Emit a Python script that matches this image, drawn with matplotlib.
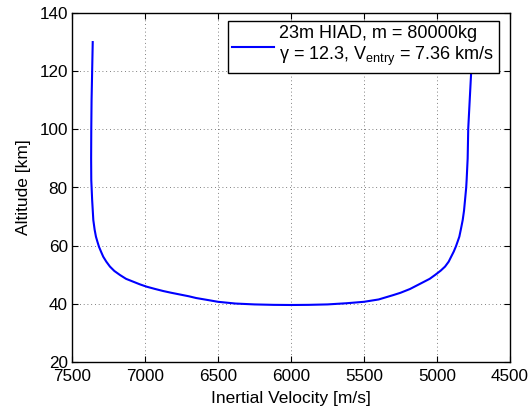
import matplotlib
matplotlib.use("Agg")
import matplotlib.pyplot as plt

plt.rcParams['font.family'] = ['Liberation Sans', 'DejaVu Sans']
plt.rcParams['mathtext.fontset'] = 'custom'
plt.rcParams['mathtext.rm'] = 'Liberation Sans'

# Trajectory: inertial velocity [m/s] vs altitude [km]
velocity = [7358, 7362, 7366, 7368, 7369, 7368, 7362, 7354, 7345, 7336, 7325,
            7315, 7300, 7286, 7265, 7240, 7210, 7171, 7130, 7080, 7035, 6989,
            6930, 6875, 6820, 6760, 6700, 6650, 6580, 6500, 6380, 6250, 6120,
            6000, 5880, 5750, 5620, 5500, 5400, 5300, 5250, 5185, 5100, 5050,
            5014, 4975, 4945, 4920, 4900, 4885, 4870, 4858, 4847, 4835, 4824,
            4815, 4808, 4800, 4797, 4790, 4786, 4776, 4767, 4760]
altitude = [130.0, 120.0, 110.0, 100.0, 90.0, 82.6, 75.7, 68.8, 65.5, 63.1, 61.2,
            59.6, 57.8, 56.2, 54.5, 52.8, 51.3, 49.9, 48.6, 47.6, 46.7, 45.9,
            45.1, 44.4, 43.8, 43.2, 42.6, 42.0, 41.4, 40.7, 40.1, 39.8, 39.65,
            39.6, 39.65, 39.8, 40.2, 40.7, 41.5, 43.0, 43.8, 45.1, 47.3, 48.6,
            49.9, 51.4, 52.8, 54.5, 56.5, 58.0, 59.8, 61.5, 63.1, 66.0, 68.8,
            72.0, 75.7, 80.0, 82.6, 90.0, 100.3, 110.0, 118.7, 130.0]

legend_label = "23m HIAD, m = 80000kg\nγ = 12.3, V$_{\\mathregular{entry}}$ = 7.36 km/s"
x_ticks = [7500, 7000, 6500, 6000, 5500, 5000, 4500]
y_ticks = [20, 40, 60, 80, 100, 120, 140]

fig = plt.figure(figsize=(5.32, 4.08), dpi=100)
ax = fig.add_axes([72/532, 1-362/408, (510-72)/532, (362-13)/408])

ax.plot(velocity, altitude, color='#0000ff', lw=1.5, label=legend_label)

ax.set_xlim(7500, 4500)
ax.set_ylim(20, 140)
ax.set_xticks(x_ticks)
ax.set_yticks(y_ticks)
ax.grid(True, color='#555555', linestyle=(0, (1, 3.5)), lw=0.6)
ax.tick_params(direction='in', top=True, right=True, length=4, width=0.8,
               labelsize=12.3)
ax.tick_params(axis='x', pad=5)
ax.tick_params(axis='y', pad=3)
for s in ax.spines.values():
    s.set_linewidth(1.0)
    s.set_color('black')

ax.set_xlabel('Inertial Velocity [m/s]', fontsize=12.5, labelpad=5)
ax.set_ylabel('Altitude [km]', fontsize=12.5, labelpad=6)

leg = ax.legend(loc='upper right', bbox_to_anchor=((499-72)/438, 1-(20.7-13)/349),
                borderaxespad=0, fontsize=13, fancybox=False, framealpha=1,
                edgecolor='black', handlelength=2.3, handletextpad=0.3,
                borderpad=0.25)
leg.get_frame().set_linewidth(1.0)

fig.savefig('out.png', dpi=100)
